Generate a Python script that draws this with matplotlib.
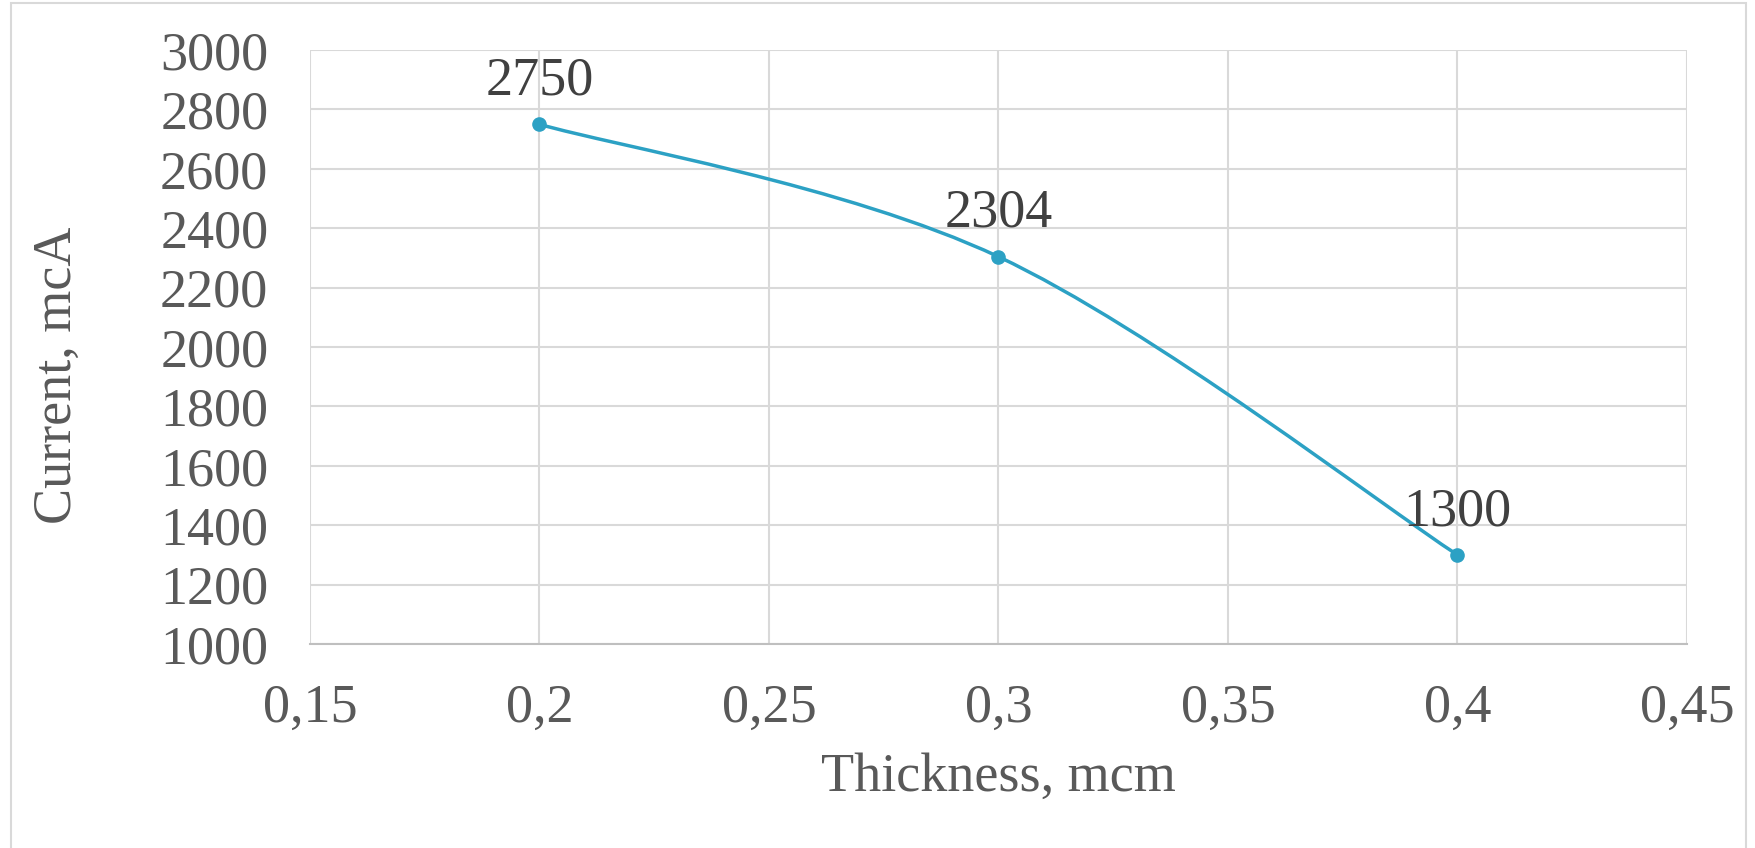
import matplotlib.pyplot as plt
from matplotlib.path import Path
from matplotlib.patches import PathPatch, Rectangle

# data
thickness = [0.2, 0.3, 0.4]
current = [2750, 2304, 1300]
x_ticks = [0.15, 0.2, 0.25, 0.3, 0.35, 0.4, 0.45]
x_tick_labels = ["0,15", "0,2", "0,25", "0,3", "0,35", "0,4", "0,45"]
y_ticks = list(range(1000, 3001, 200))

plt.rcParams['font.family'] = ['Liberation Serif', 'DejaVu Serif']

line_color = '#2CA1C4'
text_color = '#595959'

fig = plt.figure(figsize=(17.56, 8.48), dpi=100)
ax = fig.add_axes([0.1765, 0.2406, 0.9607 - 0.1765, 0.941 - 0.2406])

# smoothed line (Excel-style Bezier through points)
pts = list(zip(thickness, current))
verts = [pts[0]]
codes = [Path.MOVETO]
n = len(pts)
for i in range(n - 1):
    p0 = pts[i - 1] if i > 0 else pts[i]
    p1 = pts[i]
    p2 = pts[i + 1]
    p3 = pts[i + 2] if i + 2 < n else pts[i + 1]
    c1 = (p1[0] + (p2[0] - p0[0]) / 6, p1[1] + (p2[1] - p0[1]) / 6)
    c2 = (p2[0] - (p3[0] - p1[0]) / 6, p2[1] - (p3[1] - p1[1]) / 6)
    verts += [c1, c2, p2]
    codes += [Path.CURVE4] * 3
ax.add_patch(PathPatch(Path(verts, codes), facecolor='none',
                       edgecolor=line_color, lw=2.5, zorder=3))
ax.plot(thickness, current, ls='none', marker='o', ms=9.5,
        color=line_color, zorder=4)

for x, y in zip(thickness, current):
    ax.annotate(str(y), (x, y), xytext=(0, 31), textcoords='offset points',
                ha='center', va='center', fontsize=39, color='#404040')

ax.set_xlim(0.15, 0.45)
ax.set_ylim(1000, 3000)
ax.set_xticks(x_ticks)
ax.set_xticklabels(x_tick_labels)
ax.set_yticks(y_ticks)
ax.tick_params(length=0, labelsize=39, labelcolor=text_color)
ax.tick_params(axis='y', pad=30)
ax.tick_params(axis='x', pad=28)

ax.grid(True, color='#D9D9D9', lw=1.5)
ax.set_axisbelow(True)
for s in ['top', 'right', 'left']:
    ax.spines[s].set_visible(False)
ax.spines['bottom'].set_color('#BFBFBF')
ax.spines['bottom'].set_linewidth(1.5)

ax.set_xlabel("Thickness, mcm", fontsize=39, color=text_color, labelpad=14)
ax.set_ylabel("Current, mcA", fontsize=39, color=text_color)
ax.yaxis.set_label_coords(-0.165, 0.453)

# chart border
fig.patches.append(Rectangle((11 / 1756, -0.05), (1746 - 11) / 1756, 1.05 - 3 / 848,
                             transform=fig.transFigure, fill=False,
                             edgecolor='#D9D9D9', lw=1.5))

plt.savefig("out.png", dpi=100)
